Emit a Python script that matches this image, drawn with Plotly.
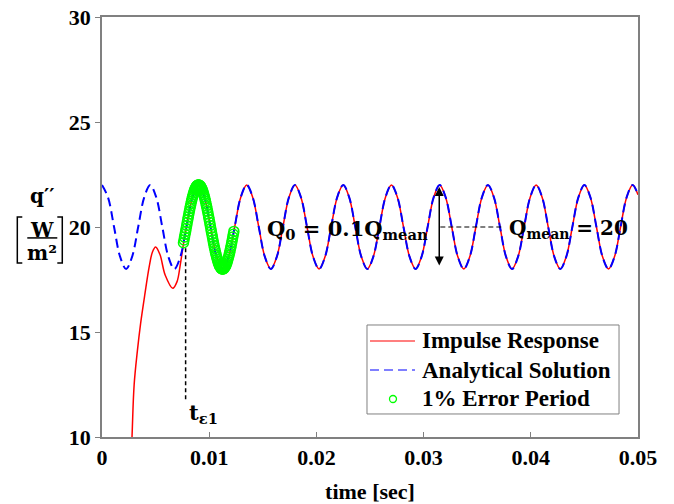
import plotly.graph_objects as go

# ---------------- data ----------------
# Analytical solution: q'' = Qmean + Q0*cos(wt), sampled every 1/8 period (T ~ 0.0045 s)
analytic_t = [
    0, 0.0005625, 0.001125, 0.0016875, 0.00225, 0.0028125, 0.003375, 0.0039375,
    0.0045, 0.0050625, 0.005625, 0.0061875, 0.00675, 0.0073125, 0.007875, 0.0084375,
    0.009, 0.0095625, 0.010125, 0.0106875, 0.01125, 0.0118125, 0.012375, 0.0129375,
    0.0135, 0.0140625, 0.014625, 0.0151875, 0.01575, 0.0163125, 0.016875, 0.0174375,
    0.018, 0.0185625, 0.019125, 0.0196875, 0.02025, 0.0208125, 0.021375, 0.0219375,
    0.0225, 0.0230625, 0.023625, 0.0241875, 0.02475, 0.0253125, 0.025875, 0.0264375,
    0.027, 0.0275625, 0.028125, 0.0286875, 0.02925, 0.0298125, 0.030375, 0.0309375,
    0.0315, 0.0320625, 0.032625, 0.0331875, 0.03375, 0.0343125, 0.034875, 0.0354375,
    0.036, 0.0365625, 0.037125, 0.0376875, 0.03825, 0.0388125, 0.039375, 0.0399375,
    0.0405, 0.0410625, 0.041625, 0.0421875, 0.04275, 0.0433125, 0.043875, 0.0444375,
    0.045, 0.0455625, 0.046125, 0.0466875, 0.04725, 0.0478125, 0.048375, 0.0489375,
    0.0495, 0.05,
]
analytic_q = [
    22, 21.41, 20, 18.59, 18, 18.59, 20, 21.41,
    22, 21.41, 20, 18.59, 18, 18.59, 20, 21.41,
    22, 21.41, 20, 18.59, 18, 18.59, 20, 21.41,
    22, 21.41, 20, 18.59, 18, 18.59, 20, 21.41,
    22, 21.41, 20, 18.59, 18, 18.59, 20, 21.41,
    22, 21.41, 20, 18.59, 18, 18.59, 20, 21.41,
    22, 21.41, 20, 18.59, 18, 18.59, 20, 21.41,
    22, 21.41, 20, 18.59, 18, 18.59, 20, 21.41,
    22, 21.41, 20, 18.59, 18, 18.59, 20, 21.41,
    22, 21.41, 20, 18.59, 18, 18.59, 20, 21.41,
    22, 21.41, 20, 18.59, 18, 18.59, 20, 21.41,
    22, 21.53,
]

# Impulse response: transient part (afterwards it coincides with the analytical solution)
impulse_t_start = [0.0024, 0.0028, 0.0030, 0.0033, 0.0036, 0.0040, 0.0044, 0.0047, 0.0050,
                   0.0054, 0.0059, 0.0066, 0.0070, 0.0073, 0.0076]
impulse_q_start = [4.0, 10.0, 12.5, 14.1, 15.4, 16.8, 18.1, 18.8, 19.05,
                   18.7, 17.7, 17.08, 17.4, 18.2, 19.2]
join_index = 14  # analytical sample from which the impulse response merges

# 1% error period markers
error_t = [
    0.0076, 0.00765, 0.0077, 0.00775, 0.0078, 0.00785, 0.0079, 0.00795, 0.008, 0.00805,
    0.0081, 0.00815, 0.0082, 0.00825, 0.0083, 0.00835, 0.0084, 0.00845, 0.0085, 0.00855,
    0.0086, 0.00865, 0.0087, 0.00875, 0.0088, 0.00885, 0.0089, 0.00895, 0.009, 0.00905,
    0.0091, 0.00915, 0.0092, 0.00925, 0.0093, 0.00935, 0.0094, 0.00945, 0.0095, 0.00955,
    0.0096, 0.00965, 0.0097, 0.00975, 0.0098, 0.00985, 0.0099, 0.00995, 0.01, 0.01005,
    0.0101, 0.01015, 0.0102, 0.01025, 0.0103, 0.01035, 0.0104, 0.01045, 0.0105, 0.01055,
    0.0106, 0.01065, 0.0107, 0.01075, 0.0108, 0.01085, 0.0109, 0.01095, 0.011, 0.01105,
    0.0111, 0.01115, 0.0112, 0.01125, 0.0113, 0.01135, 0.0114, 0.01145, 0.0115, 0.01155,
    0.0116, 0.01165, 0.0117, 0.01175, 0.0118, 0.01185, 0.0119, 0.01195, 0.012, 0.01205,
    0.0121, 0.01215, 0.0122, 0.01225, 0.0123,
]
error_q = [
    19.25, 19.38, 19.52, 19.65, 19.79, 19.93, 20.07, 20.21, 20.35, 20.48,
    20.62, 20.75, 20.88, 21.00, 21.12, 21.23, 21.34, 21.44, 21.53, 21.62,
    21.70, 21.77, 21.83, 21.88, 21.92, 21.96, 21.98, 22.00, 22.00, 22.00,
    21.98, 21.96, 21.92, 21.88, 21.83, 21.77, 21.70, 21.62, 21.53, 21.44,
    21.34, 21.23, 21.12, 21.00, 20.88, 20.75, 20.62, 20.48, 20.35, 20.21,
    20.07, 19.93, 19.79, 19.65, 19.52, 19.38, 19.25, 19.12, 19.00, 18.88,
    18.77, 18.66, 18.56, 18.47, 18.38, 18.30, 18.23, 18.17, 18.12, 18.08,
    18.04, 18.02, 18.00, 18.00, 18.00, 18.02, 18.04, 18.08, 18.12, 18.17,
    18.23, 18.30, 18.38, 18.47, 18.56, 18.66, 18.77, 18.88, 19.00, 19.12,
    19.25, 19.38, 19.52, 19.65, 19.79,
]

series_names = ["Impulse Response", "Analytical Solution", "1% Error Period"]

t_eps1 = 0.0078
q_mean = 20
q_amp_top = 21.9
q_amp_bot = 18.1
arrow_t = 0.03146
mean_line_t = [0.03156, 0.03752]

x_ticks = [0, 0.01, 0.02, 0.03, 0.04, 0.05]
x_ticklabels = ["0", "0.01", "0.02", "0.03", "0.04", "0.05"]
y_ticks = [10, 15, 20, 25, 30]

# ---------------- figure ----------------
SERIF = "Liberation Serif"
MATH = "DejaVu Serif"
RED, BLUE, GREEN = "#ff0000", "#0000ff", "#00ff00"
axis_gray = "#808080"

impulse_t = impulse_t_start + analytic_t[join_index:]
impulse_q = impulse_q_start + analytic_q[join_index:]

fig = go.Figure()
fig.add_trace(go.Scatter(
    x=impulse_t, y=impulse_q, mode="lines", name=series_names[0], showlegend=False,
    line=dict(color=RED, width=1.5, shape="spline", smoothing=1.0),
))
fig.add_trace(go.Scatter(
    x=analytic_t, y=analytic_q, mode="lines", name=series_names[1], showlegend=False,
    line=dict(color=BLUE, width=2, dash="9px,5px", shape="spline", smoothing=1.0),
))
fig.add_trace(go.Scatter(
    x=error_t, y=error_q, mode="markers", name=series_names[2], showlegend=False,
    marker=dict(symbol="circle-open", size=10, color=GREEN, line=dict(width=1.5, color=GREEN)),
))

fig.update_layout(
    width=674, height=504,
    margin=dict(l=102, r=36, t=17, b=67),
    paper_bgcolor="white", plot_bgcolor="white",
    font=dict(family=SERIF, size=21, color="black", weight="bold"),
    showlegend=False,
    xaxis=dict(
        range=[0, 0.05], tickvals=x_ticks, ticktext=x_ticklabels,
        ticks="inside", ticklen=5, tickcolor=axis_gray, tickwidth=1,
        showline=True, linecolor=axis_gray, linewidth=1.5, mirror=True,
        showgrid=False, zeroline=False, automargin=False,
        tickfont=dict(family=SERIF, size=22, color="black", weight="bold"),
        title=dict(text="time [sec]", standoff=14,
                   font=dict(family=SERIF, size=22, color="black", weight="bold")),
    ),
    yaxis=dict(
        range=[10, 30], tickvals=y_ticks,
        ticks="outside", ticklen=5, tickcolor=axis_gray, tickwidth=1,
        showline=True, linecolor=axis_gray, linewidth=1.5, mirror=True,
        showgrid=False, zeroline=False, automargin=False,
        tickfont=dict(family=SERIF, size=22, color="black", weight="bold"),
    ),
)

# ---- legend box (MATLAB-style) ----
fig.add_shape(type="rect", xref="paper", yref="paper", x0=0.4944, x1=0.9646, y0=0.0548, y1=0.2667,
              fillcolor="white", line=dict(color=axis_gray, width=1), layer="above")
leg_rows_y = [0.2286, 0.1595, 0.0905]
fig.add_shape(type="line", xref="paper", yref="paper", x0=0.5, x1=0.584,
              y0=leg_rows_y[0], y1=leg_rows_y[0], line=dict(color=RED, width=1.2), layer="above")
fig.add_shape(type="line", xref="paper", yref="paper", x0=0.5, x1=0.584,
              y0=leg_rows_y[1], y1=leg_rows_y[1], line=dict(color=BLUE, width=1.2, dash="9px,5px"),
              layer="above")
fig.add_shape(type="circle", xref="paper", yref="paper", xsizemode="pixel", ysizemode="pixel",
              xanchor=0.5429, yanchor=leg_rows_y[2], x0=-3.5, x1=3.5, y0=-3.5, y1=3.5,
              line=dict(color=GREEN, width=1.3), layer="above")
for name, yy in zip(series_names, leg_rows_y):
    fig.add_annotation(x=0.5933, y=yy, xref="paper", yref="paper", xanchor="left", yanchor="middle",
                       text=name, showarrow=False,
                       font=dict(family=SERIF, size=23, color="black", weight="bold"))

# dashed line marking t_eps1
fig.add_shape(type="line", x0=t_eps1, x1=t_eps1, y0=11.8, y1=19.1, xref="x", yref="y",
              line=dict(color="black", width=1.5, dash="4px,3px"))
# dashed line at Q_mean
fig.add_shape(type="line", x0=mean_line_t[0], x1=mean_line_t[1], y0=q_mean, y1=q_mean,
              xref="x", yref="y", line=dict(color="black", width=1.2, dash="5px,3px"))
# double arrow for the amplitude
fig.add_annotation(x=arrow_t, y=q_amp_top, ax=arrow_t, ay=q_amp_bot, xref="x", yref="y",
                   axref="x", ayref="y", text="", showarrow=True, arrowhead=2,
                   arrowside="end+start", arrowsize=1.2, arrowwidth=1.5, arrowcolor="black")

fig.add_annotation(x=0.03063, y=19.9, xref="x", yref="y", xanchor="right", yanchor="middle",
                   text="Q<sub>0</sub> = 0.1Q<sub>mean</sub>", showarrow=False,
                   font=dict(family=MATH, size=21, color="black", weight="bold"))
fig.add_annotation(x=0.03774, y=19.9, xref="x", yref="y", xanchor="left", yanchor="middle",
                   text="Q<sub>mean</sub> = 20", showarrow=False,
                   font=dict(family=MATH, size=20, color="black", weight="bold"))
fig.add_annotation(x=0.00795, y=11.1, xref="x", yref="y", xanchor="left", yanchor="middle",
                   text="t<sub>ε1</sub>", showarrow=False,
                   font=dict(family=MATH, size=21, color="black", weight="bold"))

# y-axis label: q'' [W / m^2]
lab_font = dict(family=MATH, size=20, color="black", weight="bold")
fig.add_annotation(x=-0.1114, y=0.574, xref="paper", yref="paper", text="q\u2032\u2032",
                   xanchor="center", yanchor="middle", showarrow=False, font=lab_font)
fig.add_annotation(x=-0.1114, y=0.493, xref="paper", yref="paper", text="W",
                   xanchor="center", yanchor="middle", showarrow=False, font=lab_font)
fig.add_annotation(x=-0.1114, y=0.437, xref="paper", yref="paper", text="m\u00b2",
                   xanchor="center", yanchor="middle", showarrow=False, font=lab_font)
fig.add_shape(type="line", xref="paper", yref="paper", x0=-0.1394, x1=-0.0834, y0=0.474, y1=0.474,
              line=dict(color="black", width=1.5))
fig.add_shape(type="path", xref="paper", yref="paper",
              path="M -0.1487,0.524 L -0.158,0.524 L -0.158,0.414 L -0.1487,0.414",
              line=dict(color="black", width=1.5))
fig.add_shape(type="path", xref="paper", yref="paper",
              path="M -0.0834,0.524 L -0.0741,0.524 L -0.0741,0.414 L -0.0834,0.414",
              line=dict(color="black", width=1.5))

fig.write_html("out.html")
